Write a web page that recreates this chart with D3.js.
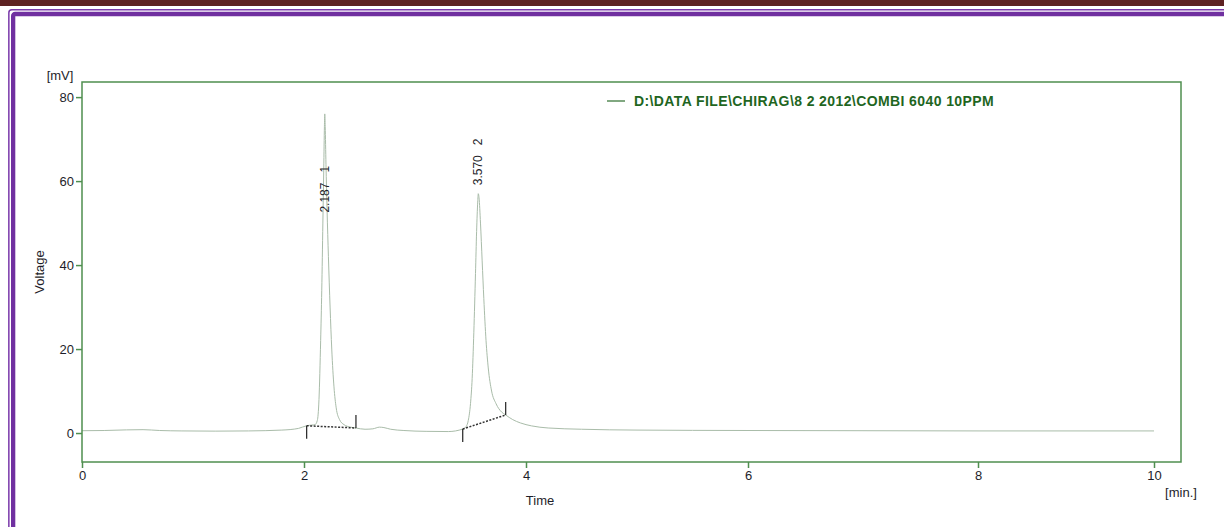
<!DOCTYPE html>
<html>
<head>
<meta charset="utf-8">
<script src="https://cdn.jsdelivr.net/npm/d3@7"></script>
<style>
  html, body { margin: 0; padding: 0; background: #fff; }
  svg { display: block; font-family: "Liberation Sans", Arial, sans-serif; }
</style>
</head>
<body>
<svg id="chart" width="1224" height="527"></svg>
<script>
// Chromatogram trace: [time (min), voltage (mV)]
const traceTime = [0, 0.2, 0.4, 0.55, 0.7, 0.9, 1.2, 1.5, 1.8, 1.95, 2.024, 2.07, 2.1, 2.12, 2.135, 2.15, 2.16, 2.17, 2.178, 2.184, 2.187,
  2.191, 2.198, 2.208, 2.22, 2.235, 2.25, 2.27, 2.29, 2.32, 2.36, 2.42, 2.468, 2.55, 2.62, 2.68, 2.72, 2.78, 2.9, 3.1, 3.3,
  3.43, 3.46, 3.48, 3.5, 3.515, 3.53, 3.545, 3.555, 3.565, 3.57, 3.577, 3.59, 3.605, 3.62, 3.64, 3.66, 3.69, 3.73, 3.78, 3.817,
  3.88, 3.95, 4.05, 4.2, 4.5, 5, 6, 7, 8, 9, 10];
const traceVolt = [0.55, 0.6, 0.75, 0.8, 0.6, 0.5, 0.45, 0.5, 0.7, 1.1, 1.74, 1.9, 2.0, 3.0, 8, 22, 34, 50, 63, 73, 76,
  73, 64, 53, 42, 30, 20, 11, 6, 3.2, 2.0, 1.4, 1.19, 0.9, 1.0, 1.4, 1.3, 0.9, 0.6, 0.4, 0.35,
  0.95, 1.5, 3, 7, 13, 24, 38, 48, 55, 57, 56, 50, 41, 32, 22, 15.5, 10, 7, 5, 4.3,
  3.2, 2.4, 1.7, 1.2, 0.9, 0.7, 0.6, 0.55, 0.5, 0.5, 0.5];

// Integrated peaks
const peakNumber = [1, 2];
const peakRetention = ["2.187", "3.570"];
const peakLabelAt = [52.5, 59];           // mV level where each label starts
const peakStartTime = [2.024, 3.43];
const peakStartVolt = [1.74, 0.95];
const peakEndTime = [2.468, 3.817];
const peakEndVolt = [1.19, 4.3];

const xTicks = [0, 2, 4, 6, 8, 10];
const yTicks = [0, 20, 40, 60, 80];
const legendText = "D:\\DATA FILE\\CHIRAG\\8 2 2012\\COMBI 6040 10PPM";

const svg = d3.select("#chart");

// Page frame
svg.append("rect").attr("x", 0).attr("y", 0).attr("width", 1224).attr("height", 6).attr("fill", "#5e2222");
svg.append("rect").attr("x", 8.85).attr("y", 9.7).attr("width", 1300).attr("height", 700)
  .attr("rx", 3).attr("fill", "none").attr("stroke", "#7a3aaa").attr("stroke-width", 1.5);
svg.append("rect").attr("x", 13.15).attr("y", 14).attr("width", 1300).attr("height", 700)
  .attr("rx", 2).attr("fill", "none").attr("stroke", "#7030a0").attr("stroke-width", 4.3);

// Plot area
const plotL = 82, plotR = 1181, plotT = 82, plotB = 462;
const x = d3.scaleLinear().domain([0, 2, 4, 6, 8, 10]).range([82, 304, 526, 748, 978, 1154]);
const y = d3.scaleLinear().domain([-6.9, 83.6]).range([plotB, plotT]);

const axisColor = "#4f8f4f";
const textColor = "#1e1e2a";

// Trace
const pts = traceTime.map((t, i) => [t, traceVolt[i]]);
const line = d3.line().x(d => x(d[0])).y(d => y(d[1])).curve(d3.curveMonotoneX);
svg.append("path").datum(pts).attr("d", line)
  .attr("fill", "none").attr("stroke", "#a9bca9").attr("stroke-width", 1);

// Integration baselines and markers
peakNumber.forEach((n, i) => {
  const x0 = x(peakStartTime[i]), y0 = y(peakStartVolt[i]);
  const x1 = x(peakEndTime[i]), y1 = y(peakEndVolt[i]);
  svg.append("line").attr("x1", x0).attr("y1", y0).attr("x2", x1).attr("y2", y1)
    .attr("stroke", "#333").attr("stroke-width", 1.5).attr("stroke-dasharray", "2,1.5");
  svg.append("line").attr("x1", x0).attr("y1", y0).attr("x2", x0).attr("y2", y0 + 13)
    .attr("stroke", "#222").attr("stroke-width", 1.2);
  svg.append("line").attr("x1", x1).attr("y1", y1).attr("x2", x1).attr("y2", y1 - 13)
    .attr("stroke", "#222").attr("stroke-width", 1.2);
});

// Peak labels
peakNumber.forEach((n, i) => {
  const tx = x(+peakRetention[i]) + 4, ty = y(peakLabelAt[i]);
  svg.append("text")
    .attr("transform", `translate(${tx},${ty}) rotate(-90)`)
    .attr("font-size", 12).attr("fill", textColor)
    .style("white-space", "pre")
    .text(peakRetention[i] + "   " + n);
});

// Frame
svg.append("rect").attr("x", plotL).attr("y", plotT).attr("width", plotR - plotL).attr("height", plotB - plotT)
  .attr("fill", "none").attr("stroke", axisColor).attr("stroke-width", 1.5);

// Axes
const yAxis = svg.append("g").attr("transform", `translate(${plotL},0)`)
  .call(d3.axisLeft(y).tickValues(yTicks).tickSize(6).tickPadding(2));
const xAxis = svg.append("g").attr("transform", `translate(0,${plotB})`)
  .call(d3.axisBottom(x).tickValues(xTicks).tickSize(6).tickPadding(3).tickFormat(d3.format("d")));
[yAxis, xAxis].forEach(g => {
  g.select(".domain").remove();
  g.selectAll(".tick line").attr("stroke", axisColor).attr("stroke-width", 1.5);
  g.selectAll(".tick text").attr("fill", textColor).attr("font-size", 13)
    .attr("font-family", "Liberation Sans, Arial, sans-serif");
});

// Axis titles
svg.append("text").attr("x", 60).attr("y", 80).attr("text-anchor", "middle")
  .attr("font-size", 13).attr("fill", textColor).text("[mV]");
svg.append("text").attr("transform", "translate(44,272) rotate(-90)").attr("text-anchor", "middle")
  .attr("font-size", 13).attr("fill", textColor).text("Voltage");
svg.append("text").attr("x", 540).attr("y", 505).attr("text-anchor", "middle")
  .attr("font-size", 13).attr("fill", textColor).text("Time");
svg.append("text").attr("x", 1181).attr("y", 497).attr("text-anchor", "middle")
  .attr("font-size", 13).attr("fill", textColor).text("[min.]");

// Legend
svg.append("line").attr("x1", 607).attr("x2", 625).attr("y1", 101).attr("y2", 101)
  .attr("stroke", "#2d6e2d").attr("stroke-width", 1.2);
svg.append("text").attr("x", 634).attr("y", 106)
  .attr("font-size", 14).attr("font-weight", "bold").attr("letter-spacing", 0.4).attr("fill", "#1f661f")
  .text(legendText);
</script>
</body>
</html>
